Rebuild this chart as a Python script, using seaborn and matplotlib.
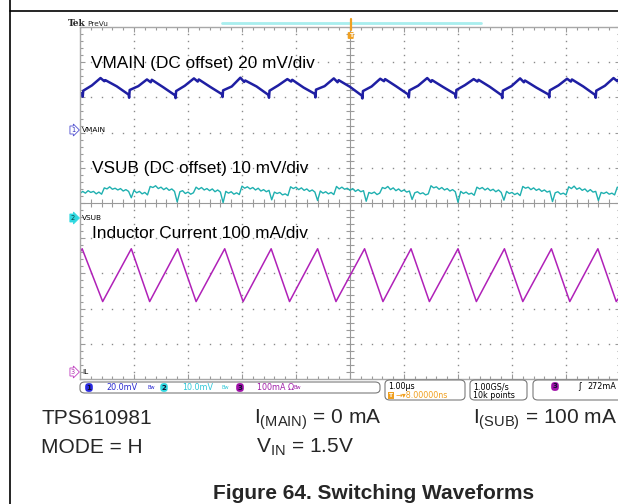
import numpy as np
import pandas as pd
import matplotlib
matplotlib.use("Agg")
import matplotlib.pyplot as plt
import seaborn as sns
from matplotlib.patches import FancyBboxPatch
from matplotlib.lines import Line2D

### time base in us (1 us/div, trigger at the centre)
vsub_t = np.linspace(-5.0, 5.0, 201)
vsub_mv = [
    7.0, 7.6, 7.1, 7.8, 7.3, 7.6, 6.9, 7.4, 6.8,
    8.6, 8.3, 8.9, 8.2, 8.5, 8.0, 8.4, 7.7, 8.1, 7.6, 5.8, 7.9, 7.2, 7.6, 6.9, 7.3, 6.6,
    9.0, 8.7, 9.2, 8.4, 8.8, 8.1, 8.6, 7.9, 8.3, 7.6, 4.6, 7.5, 7.8, 7.0, 7.4, 6.8, 7.2,
    8.8, 8.2, 8.7, 8.0, 8.4, 7.8, 8.3, 7.5, 8.0, 7.4, 4.4, 7.6, 7.1, 7.5, 6.8, 7.2, 6.7,
    9.1, 8.5, 8.9, 8.3, 8.7, 8.0, 8.5, 7.7, 8.1, 7.5, 7.9, 5.2, 7.4, 7.0, 7.3, 6.6, 6.9, 6.4,
    8.9, 8.4, 8.8, 8.1, 8.6, 7.9, 8.3, 7.6, 8.0, 7.4, 5.0, 7.7, 7.1, 7.5, 6.9, 7.3, 6.7,
    9.0, 8.3, 8.8, 8.2, 8.5, 7.9, 8.4, 7.6, 8.1, 7.5, 7.8, 4.8, 7.3, 7.0, 7.4, 6.7, 7.1,
    8.7, 8.4, 9.0, 8.1, 8.6, 7.8, 8.3, 7.6, 8.0, 7.4, 7.7, 5.3, 7.2, 7.5, 6.9, 7.2, 6.6, 6.9,
    9.2, 8.6, 8.9, 8.2, 8.7, 8.0, 8.4, 7.7, 8.1, 7.5, 4.5, 7.6, 7.0, 7.4, 6.8, 7.1, 6.5,
    8.8, 8.3, 8.7, 8.0, 8.5, 7.8, 8.2, 7.5, 8.0, 7.3, 5.1, 7.6, 7.0, 7.3, 6.7, 7.1, 6.4,
    9.0, 8.5, 8.8, 8.1, 8.6, 7.9, 8.3, 7.6, 8.0, 7.4, 7.7, 4.7, 7.2, 7.5, 6.8, 7.1, 6.6,
    8.9, 8.4, 9.1, 8.2, 8.6, 7.9, 8.3, 7.5, 8.1, 7.4, 7.6, 5.0, 7.3, 7.0, 7.4, 6.8, 7.1, 6.6,
    8.8, 8.4,
]

vmain_t = [
    -5.00,
    -4.96, -4.95, -4.94, -4.78, -4.62, -4.55, -4.53, -4.32,
    -4.10, -4.09, -4.08, -3.92, -3.76, -3.69, -3.67, -3.46,
    -3.24, -3.23, -3.22, -3.06, -2.89, -2.82, -2.80, -2.59,
    -2.37, -2.36, -2.35, -2.19, -2.03, -1.96, -1.94, -1.73,
    -1.51, -1.50, -1.49, -1.33, -1.16, -1.09, -1.07, -0.86,
    -0.65, -0.64, -0.63, -0.47, -0.30, -0.23, -0.21, 0.00,
    0.22, 0.23, 0.24, 0.40, 0.56, 0.63, 0.65, 0.86,
    1.08, 1.09, 1.10, 1.26, 1.43, 1.50, 1.52, 1.73,
    1.95, 1.96, 1.97, 2.13, 2.29, 2.36, 2.38, 2.59,
    2.81, 2.82, 2.83, 2.99, 3.15, 3.22, 3.24, 3.45,
    3.68, 3.69, 3.70, 3.86, 4.02, 4.09, 4.11, 4.32,
    4.54, 4.55, 4.56, 4.72, 4.88, 4.95, 4.97,
    5.00,
]
vmain_mv = [
    21.2,
    20.6, 19.0, 22.4, 25.4, 29.6, 27.8, 28.4, 24.9,
    20.2, 18.4, 22.8, 25.0, 28.8, 27.2, 28.6, 24.4,
    19.8, 18.2, 22.2, 25.2, 29.4, 27.6, 28.8, 24.6,
    20.4, 18.8, 22.6, 24.8, 29.8, 27.4, 28.2, 24.8,
    20.0, 18.4, 22.4, 25.4, 29.0, 27.6, 28.6, 24.2,
    20.6, 18.6, 23.0, 25.0, 29.4, 27.2, 28.4, 24.6,
    19.6, 18.0, 22.2, 24.8, 29.2, 27.8, 29.0, 24.8,
    20.2, 18.6, 22.6, 25.2, 29.6, 27.4, 28.4, 24.4,
    20.4, 18.4, 22.8, 25.6, 29.0, 27.6, 28.6, 24.6,
    19.8, 18.2, 22.4, 25.0, 29.4, 27.2, 28.2, 24.2,
    20.2, 18.6, 22.6, 25.4, 29.2, 27.6, 28.8, 24.8,
    20.0, 18.4, 22.4, 25.2, 29.6, 27.8, 28.6,
    28.0,
]

il_t = [-5.00, -4.96, -4.58, -4.05, -3.71, -3.19, -2.85, -2.32, -1.98, -1.46, -1.12,
        -0.60, -0.26, 0.27, 0.61, 1.13, 1.47, 2.00, 2.34, 2.86, 3.20, 3.73, 4.07,
        4.59, 4.93, 5.00]
il_ma = [340, 350, 200, 350, 200, 350, 200, 350, 200, 350, 200,
         350, 200, 350, 200, 350, 200, 350, 200, 350, 200, 350, 200,
         350, 200, 215]

### channel ground markers (div from bottom) and scale per div
pos1, pos2, pos3 = 7.07, 4.57, 0.20
scale1, scale2, scale3 = 20.0, 10.0, 100.0

c1 = "#1f1fa3"
c2 = "#1fb0b0"
c3 = "#b021b8"

sns.set_theme(style="white")
plt.rcParams["font.family"] = ["Liberation Sans", "DejaVu Sans"]
plt.rcParams["mathtext.default"] = "regular"

W, H = 618, 504
def fx(x):
    return x / W
def fy(y):
    return 1 - y / H

fig = plt.figure(figsize=(W / 100, H / 100), dpi=100)
ax = fig.add_axes([fx(80), fy(379), 540 / W, 352 / H])

df1 = pd.DataFrame({"t": vmain_t, "div": np.array(vmain_mv) / scale1 + pos1})
df2 = pd.DataFrame({"t": vsub_t, "div": np.array(vsub_mv) / scale2 + pos2})
df3 = pd.DataFrame({"t": il_t, "div": np.array(il_ma) / scale3 + pos3})

### grid
gray = "#9a9a9a"
minor_x = np.arange(-5, 5.001, 0.2)
minor_y = np.arange(0, 10.001, 0.2)
for k in range(1, 10):
    if k != 5:
        ax.plot(minor_x, [k] * len(minor_x), ls="none", marker="s", ms=1.0, mew=0, color="#8a8a8a")
for k in range(-4, 5):
    if k != 0:
        ax.plot([k] * len(minor_y), minor_y, ls="none", marker="s", ms=1.0, mew=0, color="#8a8a8a")
ax.axvline(0, color=gray, lw=0.8)
ax.axhline(5, color=gray, lw=0.8)
ax.hlines(minor_y, -0.07, 0.07, color=gray, lw=0.8)
ax.vlines(minor_x, 4.9, 5.1, color=gray, lw=0.8)

sns.lineplot(data=df2, x="t", y="div", ax=ax, color=c2, lw=1.0, estimator=None, sort=False)
sns.lineplot(data=df3, x="t", y="div", ax=ax, color=c3, lw=1.1, estimator=None, sort=False)
sns.lineplot(data=df1, x="t", y="div", ax=ax, color=c1, lw=1.8, estimator=None, sort=False)

ax.set_xlim(-5, 5)
ax.set_ylim(0, 10)
ax.set_xlabel("")
ax.set_ylabel("")
ax.set_xticks(np.arange(-5, 6))
ax.set_yticks(np.arange(0, 11))
ax.set_xticks(minor_x, minor=True)
ax.set_yticks(minor_y, minor=True)
ax.tick_params(which="both", direction="in", top=True, bottom=True, left=True, right=True,
               labelleft=False, labelbottom=False, color=gray, width=0.8)
ax.tick_params(which="major", length=3.5)
ax.tick_params(which="minor", length=2.2)
for s in ax.spines.values():
    s.set_color("#a8a8a8")
    s.set_linewidth(1.0)

### annotation texts inside the screen
tsize = 12.4
fig.text(fx(91), fy(68.3), "VMAIN (DC offset) 20 mV/div", fontsize=tsize, color="black")
fig.text(fx(91.5), fy(173.3), "VSUB (DC offset) 10 mV/div", fontsize=tsize, color="black")
fig.text(fx(92), fy(238.3), "Inductor Current 100 mA/div", fontsize=tsize, color="black")

### scope decorations
sf = "DejaVu Sans"
fig.text(fx(68), fy(26.5), "Tek", fontsize=6.5, weight="bold", family="DejaVu Serif")
fig.text(fx(87), fy(26.5), "PreVu", fontsize=5.3, family=sf)
fig.add_artist(Line2D([fx(222), fx(481)], [fy(22.5)] * 2, color="#a8eeee", lw=2.0))
fig.add_artist(Line2D([fx(350.7)] * 2, [fy(19), fy(30)], color="#f0a020", lw=1.6))
fig.text(fx(350.7), fy(35.5), "T", fontsize=4.5, color="white", weight="bold", family=sf,
         ha="center", va="center",
         bbox=dict(boxstyle="round,pad=0.15", fc="#f0a020", ec="none"))

fig.text(fx(73), fy(130), "1", fontsize=4.8, color="#3030c0", family=sf, ha="center", va="center",
         bbox=dict(boxstyle="rarrow,pad=0.15", fc="white", ec="#5050d0", lw=0.6))
fig.text(fx(82), fy(130), "VMAIN", fontsize=5.3, color="black", family=sf, va="center")
fig.text(fx(73), fy(218), "2", fontsize=4.8, color="#104040", family=sf, ha="center", va="center",
         bbox=dict(boxstyle="rarrow,pad=0.15", fc="#30d8e0", ec="#30d8e0", lw=0.6))
fig.text(fx(82), fy(218), "VSUB", fontsize=5.3, color="black", family=sf, va="center")
fig.text(fx(73), fy(372), "3", fontsize=4.8, color="#b030b0", family=sf, ha="center", va="center",
         bbox=dict(boxstyle="rarrow,pad=0.15", fc="white", ec="#c040c0", lw=0.6))
fig.text(fx(82), fy(372), "IL", fontsize=5.3, color="black", family=sf, va="center")

def rbox(x0, y0, x1, y1):
    fig.add_artist(FancyBboxPatch((fx(x0), fy(y1)), (x1 - x0) / W, (y1 - y0) / H,
                                  boxstyle="round,pad=0,rounding_size=0.008",
                                  transform=fig.transFigure, ec="#7a7a7a", fc="white", lw=0.8))

rbox(80, 382, 380, 393)
rbox(385, 380, 465, 400)
rbox(470, 380, 527, 400)
rbox(533, 380, 640, 400)

def chip(x, y, s, fc):
    fig.text(fx(x), fy(y), s, fontsize=5, color="#101030", family=sf, weight="bold",
             ha="center", va="center",
             bbox=dict(boxstyle="round,pad=0.2,rounding_size=0.5", fc=fc, ec="none"))

ys = 387.5
chip(89, ys, "1", "#2a2ae0")
fig.text(fx(106), fy(ys), "20.0mV", fontsize=5.8, color="#2a2ad0", family=sf, va="center")
fig.text(fx(147), fy(ys), "Bw", fontsize=3.6, color="#2a2ad0", family=sf, va="center")
chip(164, ys, "2", "#30d8e0")
fig.text(fx(182), fy(ys), "10.0mV", fontsize=5.8, color="#30c8d8", family=sf, va="center")
fig.text(fx(222), fy(ys), "Bw", fontsize=3.6, color="#30c8d8", family=sf, va="center")
chip(240, ys, "3", "#a010a8")
fig.text(fx(257), fy(ys), "100mA \u03a9", fontsize=5.8, color="#a020a8", family=sf, va="center")
fig.text(fx(294), fy(ys), "Bw", fontsize=3.6, color="#a020a8", family=sf, va="center")

fig.text(fx(388), fy(386.5), "1.00\u00b5s", fontsize=5.8, color="black", family=sf, va="center")
fig.text(fx(391), fy(395.5), "T", fontsize=4.2, color="white", weight="bold", family=sf,
         ha="center", va="center", bbox=dict(boxstyle="square,pad=0.1", fc="#f0a020", ec="none"))
fig.text(fx(395), fy(395.5), "\u2192\u25be8.00000ns", fontsize=5.8, color="#f0a020", family=sf,
         va="center")
fig.text(fx(473), fy(386.5), "1.00GS/s", fontsize=5.8, color="black", family=sf, va="center")
fig.text(fx(473), fy(395.5), "10k points", fontsize=5.8, color="black", family=sf, va="center")
chip(555, 386.5, "3", "#a010a8")
fig.text(fx(578), fy(386.5), "\u0283", fontsize=6, color="black", family=sf, va="center")
fig.text(fx(587), fy(386.5), "272mA", fontsize=5.8, color="black", family=sf, va="center")

### page frame
fig.add_artist(Line2D([fx(9.5)] * 2, [0, 1], color="black", lw=1.2))
fig.add_artist(Line2D([fx(9.5), 1], [fy(11)] * 2, color="black", lw=1.2))

### conditions under the screenshot
bsize = 15
fig.text(fx(41), fy(424), "TPS610981", fontsize=bsize)
fig.text(fx(41), fy(453), "MODE = H", fontsize=bsize)
fig.text(fx(254), fy(424), r"I$_{(MAIN)}$ = 0 mA", fontsize=bsize)
fig.text(fx(256), fy(453), r"V$_{IN}$ = 1.5V", fontsize=bsize)
fig.text(fx(473), fy(424), r"I$_{(SUB)}$ = 100 mA", fontsize=bsize)
fig.text(fx(373.5), fy(499), "Figure 64. Switching Waveforms", fontsize=bsize, weight="bold",
         ha="center")

fig.savefig("out.png", dpi=100)
